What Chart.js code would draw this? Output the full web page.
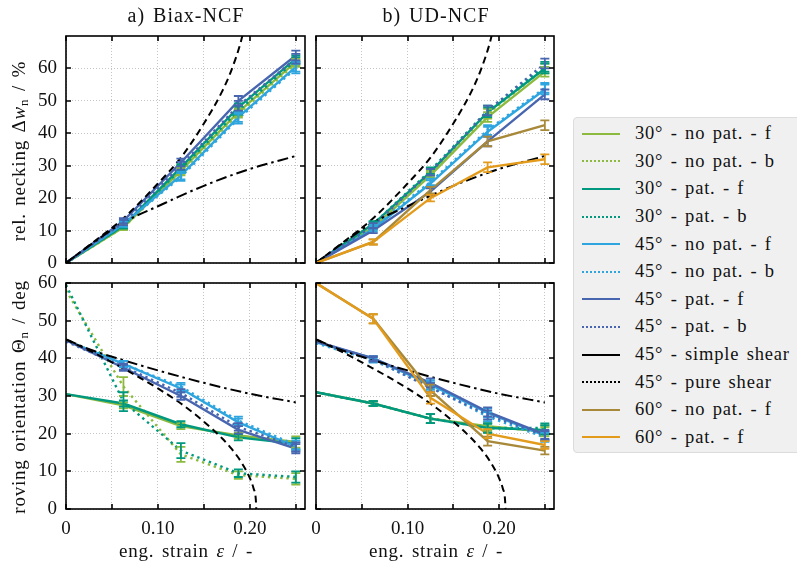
<!DOCTYPE html>
<html>
<head>
<meta charset="utf-8">
<script src="https://cdn.jsdelivr.net/npm/chart.js@4.4.1/dist/chart.umd.min.js"></script>
<style>
  body { margin: 0; background: #fff; }
  #wrap { position: relative; width: 797px; height: 567px; overflow: hidden; background: #fff;
          font-family: "Liberation Serif", serif; color: #111; }
  #wrap canvas { position: absolute; left: 0; top: 0; }
  .lbl { position: absolute; white-space: nowrap; font-size: 19px; letter-spacing: 0.8px; word-spacing: 2px;
         transform: translate(-50%, -50%); }
  .ttl { font-size: 20px; letter-spacing: 1px; }
  .rot { transform: translate(-50%, -50%) rotate(-90deg); }
  .lbl sub { font-size: 13px; vertical-align: -3px; line-height: 0; }
  #legend { position: absolute; left: 573px; top: 117px; width: 240px; height: 336px; box-sizing: border-box;
            background: #f0f0f0; border: 1px solid #dcdcdc; border-radius: 4px; padding-top: 2px; }
  .item { height: 27.6px; display: flex; align-items: center; font-size: 18.5px; letter-spacing: 0.8px; word-spacing: 2px; }
  .sample { display: inline-block; width: 38px; margin-left: 8px; margin-right: 15px; height: 0; }
</style>
</head>
<body>
<div id="wrap">
  <canvas id="neckA" width="797" height="567"></canvas>
  <canvas id="neckB" width="797" height="567"></canvas>
  <canvas id="orientA" width="797" height="567"></canvas>
  <canvas id="orientB" width="797" height="567"></canvas>

  <div class="lbl ttl" style="left:186px; top:15px;">a) Biax-NCF</div>
  <div class="lbl ttl" style="left:436px; top:15px;">b) UD-NCF</div>
  <div class="lbl rot" style="left:19px; top:151px;">rel. necking &Delta;<i>w</i><sub>n</sub> / %</div>
  <div class="lbl rot" style="left:19px; top:397px;">roving orientation &Theta;<sub>n</sub> / deg</div>
  <div class="lbl" style="left:186px; top:551px;">eng. strain <i>&epsilon;</i> / -</div>
  <div class="lbl" style="left:436px; top:551px;">eng. strain <i>&epsilon;</i> / -</div>
  <div id="legend"></div>
</div>
<script>
// measured strain levels
const strain = [0, 0.0625, 0.125, 0.1875, 0.25];

// axis ticks
const xTicks = [0, 0.05, 0.10, 0.15, 0.20, 0.25];
const xLabelTicks = [0, 0.10, 0.20];
const yTicks = [0, 10, 20, 30, 40, 50, 60];

// legend
const legendLabels = ['30° - no pat. - f', '30° - no pat. - b', '30° - pat. - f', '30° - pat. - b',
  '45° - no pat. - f', '45° - no pat. - b', '45° - pat. - f', '45° - pat. - b',
  '45° - simple shear', '45° - pure shear', '60° - no pat. - f', '60° - pat. - f'];
const legendColors = ['#8cba3f', '#8cba3f', '#00997f', '#00997f', '#2ea5df', '#2ea5df',
  '#4866b0', '#4866b0', '#000000', '#000000', '#a8893a', '#e39b1c'];
const legendDotted = [false, true, false, true, false, true, false, true, false, true, false, false];

// kinematic references (45°)
const pureX = [0, 0.03, 0.0625, 0.1, 0.125, 0.15, 0.17, 0.18, 0.19, 0.195];
const pureNeck = [0, 6.5, 13.8, 24.5, 32.5, 43, 53, 59.5, 68, 74];
const pureOrientX = [0, 0.03, 0.0625, 0.1, 0.125, 0.15, 0.17, 0.18, 0.19, 0.2, 0.204, 0.2065, 0.207];
const pureOrient = [45, 41.5, 37.3, 32, 28, 23.2, 18.7, 16, 12.7, 8.2, 5.5, 2.5, 0];
const simpleX = [0, 0.03, 0.0625, 0.1, 0.15, 0.2, 0.25];
const simpleNeck = [0, 6.3, 12.5, 17.5, 23.8, 29, 33];
const simpleOrient = [45, 42, 39.5, 36.8, 33.5, 30.6, 28.3];

// Biax-NCF necking
const biaxNeck30nf = [0, 11.0, 28.5, 46.5, 62.0];
const biaxNeck30nb = [0, 11.0, 28.0, 46.0, 61.5];
const biaxNeck30pf = [0, 11.5, 29.5, 48.0, 63.0];
const biaxNeck30pb = [0, 11.5, 29.0, 47.0, 62.5];
const biaxNeck45nf = [0, 12.0, 27.0, 45.0, 60.5];
const biaxNeck45nb = [0, 12.0, 26.5, 44.5, 60.0];
const biaxNeck45pf = [0, 13.0, 31.0, 50.0, 64.0];
const biaxNeck45pb = [0, 12.5, 30.0, 48.5, 63.0];
const biaxNeckErr30 = [0, 0.8, 1.0, 1.2, 1.0];
const biaxNeckErr45 = [0, 0.8, 1.2, 1.5, 1.5];

// Biax-NCF roving orientation
const biaxOri30nf = [30.5, 27.5, 22.0, 19.5, 17.8];
const biaxOri30nb = [58.0, 32.5, 14.5, 9.0, 8.0];
const biaxOri30pf = [30.5, 28.0, 22.5, 19.0, 17.3];
const biaxOri30pb = [59.5, 28.5, 15.5, 9.5, 8.5];
const biaxOri45nf = [44.8, 38.5, 32.0, 23.0, 16.5];
const biaxOri45nb = [44.8, 38.5, 32.5, 23.5, 17.0];
const biaxOri45pf = [44.8, 37.5, 30.0, 21.0, 16.0];
const biaxOri45pb = [44.5, 37.8, 30.8, 21.8, 16.5];
const biaxOriErr30f = [0, 0.8, 0.8, 0.8, 1.5];
const biaxOriErr30b = [0, 2.5, 2.0, 1.0, 1.5];
const biaxOriErr45 = [0, 0.8, 1.0, 1.0, 1.2];

// UD-NCF necking
const udNeck30nf = [0, 11.0, 27.0, 45.0, 59.0];
const udNeck30nb = [0, 11.5, 27.5, 46.0, 60.0];
const udNeck30pf = [0, 12.0, 28.0, 46.5, 60.0];
const udNeck30pb = [0, 12.0, 28.5, 47.0, 60.5];
const udNeck45nf = [0, 10.5, 24.5, 40.5, 53.5];
const udNeck45nb = [0, 11.0, 25.0, 41.0, 54.0];
const udNeck45pf = [0, 10.0, 22.0, 37.5, 52.0];
const udNeck45pb = [0, 11.5, 28.0, 47.0, 61.5];
const udNeck60nf = [0, 6.5, 22.5, 37.5, 42.5];
const udNeck60pf = [0, 6.5, 20.0, 29.5, 32.0];
const udNeckErr = [0, 0.8, 1.0, 1.5, 1.5];

// UD-NCF roving orientation
const udOri30nf = [31.0, 28.0, 24.0, 22.0, 20.5];
const udOri30nb = [31.0, 28.0, 24.0, 21.5, 21.0];
const udOri30pf = [31.0, 28.0, 24.0, 21.5, 21.0];
const udOri30pb = [31.0, 28.0, 24.0, 21.5, 21.5];
const udOri45nf = [44.3, 40.0, 33.0, 25.5, 19.5];
const udOri45nb = [44.0, 39.5, 32.5, 24.5, 19.0];
const udOri45pf = [44.5, 40.0, 33.5, 25.8, 19.8];
const udOri45pb = [44.5, 39.7, 32.2, 25.0, 19.5];
const udOri60nf = [60.0, 50.5, 31.5, 18.0, 15.5];
const udOri60pf = [60.0, 50.5, 29.5, 20.0, 17.0];
const udOriErr = [0, 0.6, 1.2, 1.2, 1.2];
const udOriErr60 = [0, 1.2, 1.5, 1.2, 1.0];

const FONT = 'Liberation Serif';
const W = 797, H = 567;

function series(idx, ys, err) {
  return {
    label: legendLabels[idx],
    borderColor: legendColors[idx],
    backgroundColor: legendColors[idx],
    borderWidth: 2.4,
    borderDash: legendDotted[idx] ? [2.4, 3.8] : [],
    pointRadius: 0,
    tension: 0,
    order: -idx,   // later entries on top
    data: strain.map((x, i) => ({ x, y: ys[i] })),
    err
  };
}

function reference(idx, xs, ys, dash) {
  return {
    label: legendLabels[idx],
    borderColor: '#000',
    borderWidth: 2,
    borderDash: dash,
    pointRadius: 0,
    cubicInterpolationMode: 'monotone',
    order: -idx,
    data: xs.map((x, i) => ({ x, y: ys[i] }))
  };
}

const DASHED = [7, 4.5];
const DASHDOT = [11, 4, 2.5, 4];

// error bars with caps
const errorBars = {
  id: 'errorBars',
  afterDatasetsDraw(chart) {
    const { ctx, chartArea: a, scales: { x, y } } = chart;
    ctx.save();
    ctx.beginPath();
    ctx.rect(a.left, a.top, a.right - a.left, a.bottom - a.top);
    ctx.clip();
    ctx.lineWidth = 1.8;
    ctx.setLineDash([]);
    const sets = chart.data.datasets.slice().sort((p, q) => q.order - p.order);
    sets.forEach(ds => {
      if (!ds.err) return;
      ctx.strokeStyle = ds.borderColor;
      ds.data.forEach((p, j) => {
        const e = ds.err[j];
        if (!e) return;
        const px = x.getPixelForValue(p.x);
        const top = y.getPixelForValue(p.y + e);
        const bot = y.getPixelForValue(p.y - e);
        ctx.beginPath();
        ctx.moveTo(px, top); ctx.lineTo(px, bot);
        ctx.moveTo(px - 4.5, top); ctx.lineTo(px + 4.5, top);
        ctx.moveTo(px - 4.5, bot); ctx.lineTo(px + 4.5, bot);
        ctx.stroke();
      });
    });
    ctx.restore();
  }
};

// box around the axes with inward ticks on all sides
const frame = {
  id: 'frame',
  afterDraw(chart) {
    const { ctx, chartArea: a, scales: { x, y } } = chart;
    ctx.save();
    ctx.strokeStyle = '#000';
    ctx.lineWidth = 1.6;
    ctx.setLineDash([]);
    ctx.strokeRect(a.left, a.top, a.right - a.left, a.bottom - a.top);
    ctx.beginPath();
    x.ticks.forEach(t => {
      const px = Math.round(x.getPixelForValue(t.value));
      ctx.moveTo(px, a.bottom); ctx.lineTo(px, a.bottom - 5);
      ctx.moveTo(px, a.top); ctx.lineTo(px, a.top + 5);
    });
    y.ticks.forEach(t => {
      const py = Math.round(y.getPixelForValue(t.value));
      ctx.moveTo(a.left, py); ctx.lineTo(a.left + 5, py);
      ctx.moveTo(a.right, py); ctx.lineTo(a.right - 5, py);
    });
    ctx.stroke();
    ctx.restore();
  }
};

function makeChart(id, datasets, area, yMax, showX, showY) {
  const xH = showX ? H - area.bottom : 0;
  new Chart(document.getElementById(id), {
    type: 'line',
    data: { datasets },
    options: {
      responsive: false,
      animation: false,
      devicePixelRatio: 1,
      layout: { padding: { left: 0, top: area.top, right: W - area.right, bottom: H - area.bottom - xH } },
      plugins: { legend: { display: false }, tooltip: { enabled: false } },
      scales: {
        x: {
          type: 'linear', min: 0, max: 0.26,
          afterBuildTicks: s => { s.ticks = xTicks.map(v => ({ value: v })); },
          afterFit: s => { s.height = xH; },
          grid: { color: '#b5b5b5', lineWidth: 0.8, drawTicks: false },
          border: { display: false, dash: [1, 2] },
          ticks: {
            display: showX, padding: 9, autoSkip: false, maxRotation: 0, color: '#111',
            font: { family: FONT, size: 19 },
            callback: v => xLabelTicks.some(t => Math.abs(t - v) < 1e-9) ? (v === 0 ? '0' : v.toFixed(2)) : ''
          }
        },
        y: {
          type: 'linear', min: 0, max: yMax,
          afterBuildTicks: s => { s.ticks = yTicks.map(v => ({ value: v })); },
          afterFit: s => { s.width = area.left; },
          grid: { color: '#b5b5b5', lineWidth: 0.8, drawTicks: false },
          border: { display: false, dash: [1, 2] },
          ticks: {
            display: showY, padding: 9, color: '#111',
            font: { family: FONT, size: 19 },
            callback: v => String(v)
          }
        }
      }
    },
    plugins: [errorBars, frame]
  });
}

const topRow = { top: 36, bottom: 263 };
const botRow = { top: 283, bottom: 509 };
const colA = { left: 66, right: 305 };
const colB = { left: 316, right: 554 };

makeChart('neckA', [
  series(0, biaxNeck30nf, biaxNeckErr30),
  series(1, biaxNeck30nb, biaxNeckErr30),
  series(2, biaxNeck30pf, biaxNeckErr30),
  series(3, biaxNeck30pb, biaxNeckErr30),
  series(4, biaxNeck45nf, biaxNeckErr45),
  series(5, biaxNeck45nb, biaxNeckErr45),
  series(6, biaxNeck45pf, biaxNeckErr45),
  series(7, biaxNeck45pb, biaxNeckErr45),
  reference(8, simpleX, simpleNeck, DASHDOT),
  reference(9, pureX, pureNeck, DASHED)
], { ...colA, ...topRow }, 70, false, true);

makeChart('neckB', [
  series(0, udNeck30nf, udNeckErr),
  series(1, udNeck30nb, udNeckErr),
  series(2, udNeck30pf, udNeckErr),
  series(3, udNeck30pb, udNeckErr),
  series(4, udNeck45nf, udNeckErr),
  series(5, udNeck45nb, udNeckErr),
  series(6, udNeck45pf, udNeckErr),
  series(7, udNeck45pb, udNeckErr),
  reference(8, simpleX, simpleNeck, DASHDOT),
  reference(9, pureX, pureNeck, DASHED),
  series(10, udNeck60nf, udNeckErr),
  series(11, udNeck60pf, udNeckErr)
], { ...colB, ...topRow }, 70, false, false);

makeChart('orientA', [
  series(0, biaxOri30nf, biaxOriErr30f),
  series(1, biaxOri30nb, biaxOriErr30b),
  series(2, biaxOri30pf, biaxOriErr30f),
  series(3, biaxOri30pb, biaxOriErr30b),
  series(4, biaxOri45nf, biaxOriErr45),
  series(5, biaxOri45nb, biaxOriErr45),
  series(6, biaxOri45pf, biaxOriErr45),
  series(7, biaxOri45pb, biaxOriErr45),
  reference(8, simpleX, simpleOrient, DASHDOT),
  reference(9, pureOrientX, pureOrient, DASHED)
], { ...colA, ...botRow }, 60, true, true);

makeChart('orientB', [
  series(0, udOri30nf, udOriErr),
  series(1, udOri30nb, udOriErr),
  series(2, udOri30pf, udOriErr),
  series(3, udOri30pb, udOriErr),
  series(4, udOri45nf, udOriErr),
  series(5, udOri45nb, udOriErr),
  series(6, udOri45pf, udOriErr),
  series(7, udOri45pb, udOriErr),
  reference(8, simpleX, simpleOrient, DASHDOT),
  reference(9, pureOrientX, pureOrient, DASHED),
  series(10, udOri60nf, udOriErr60),
  series(11, udOri60pf, udOriErr60)
], { ...colB, ...botRow }, 60, true, false);

// legend entries
const legend = document.getElementById('legend');
legendLabels.forEach((txt, i) => {
  const row = document.createElement('div');
  row.className = 'item';
  const s = document.createElement('span');
  s.className = 'sample';
  s.style.borderTop = '2.5px ' + (legendDotted[i] ? 'dotted ' : 'solid ') + legendColors[i];
  const t = document.createElement('span');
  t.textContent = txt;
  row.appendChild(s);
  row.appendChild(t);
  legend.appendChild(row);
});
</script>
</body>
</html>
